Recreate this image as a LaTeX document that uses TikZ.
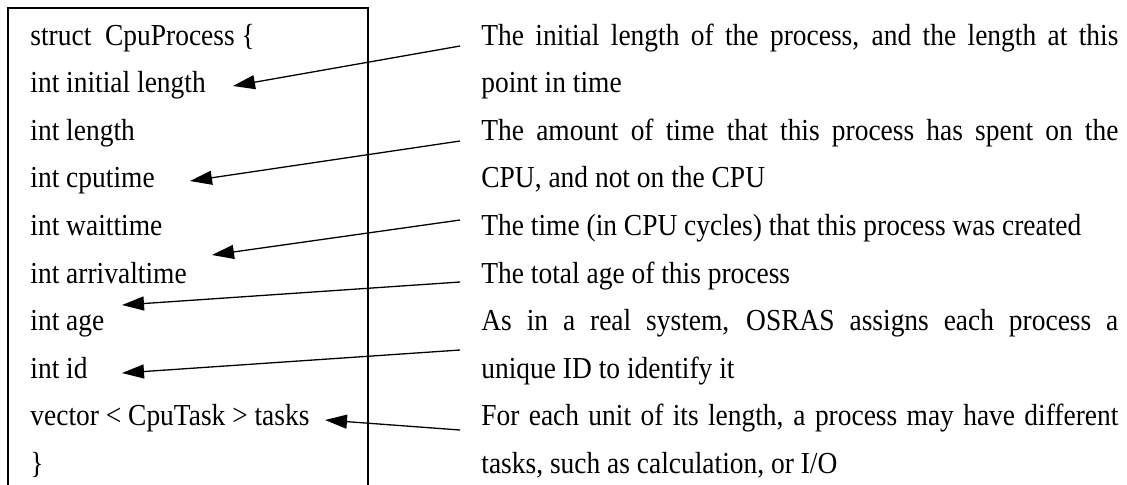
\documentclass[tikz,border=0pt]{standalone}
\usepackage{fontspec}
\setmainfont{Liberation Serif}[FakeStretch=0.9]
\usetikzlibrary{arrows.meta}

\tikzset{
  field/.style={anchor=base west, inner sep=0pt, font=\fontsize{15.25}{18}\selectfont},
  note/.style={field},
  pointer/.style={-{Triangle[length=11pt,width=7pt]}, line width=0.65pt}
}

\begin{document}
\begin{tikzpicture}[x=0.5pt, y=-0.5pt]
    \useasboundingbox (0,0) rectangle (1127,484);
    \clip (0,0) rectangle (1127,484);
    % Frame of the struct
    \draw[line width=0.7pt] (8,500) -- (8,8) -- (368,8) -- (368,500);
    % Fields
    \foreach \txt [count=\i from 0] in {struct\ \ CpuProcess \{, int initial length, int length,
        int cputime, int waittime, int arrivaltime, int age, int id,
        vector < CpuTask > tasks, \}}
        \node[field] (f\i) at (30, 45+47.6*\i) {\txt};
    % Descriptions
    \foreach \txt [count=\i from 0] in {
        {\makebox[318.5pt][s]{The initial length of the process, and the length at this}},
        point in time,
        {\makebox[318.5pt][s]{The amount of time that this process has spent on the}},
        {CPU, and not on the CPU},
        The time (in CPU cycles) that this process was created,
        The total age of this process,
        {\makebox[318.5pt][s]{As in a real system, OSRAS assigns each process a}},
        unique ID to identify it,
        {\makebox[318.5pt][s]{For each unit of its length, a process may have different}},
        {tasks, such as calculation, or I/O}}
        \node[note] (d\i) at (481, 45+47.6*\i) {\txt};
    % Pointers
    \foreach \k/\ty/\hx/\hy in {1/46/233/86, 2/141/190/181, 3/220/212/255,
        4/282/122/305, 5/350/122/373, 6/430/325/420} {
        \coordinate (tail\k) at (460,\ty);
        \coordinate (tip\k) at (\hx,\hy);
        \draw[pointer] (tail\k) -- (tip\k);
    }
\end{tikzpicture}
\end{document}
